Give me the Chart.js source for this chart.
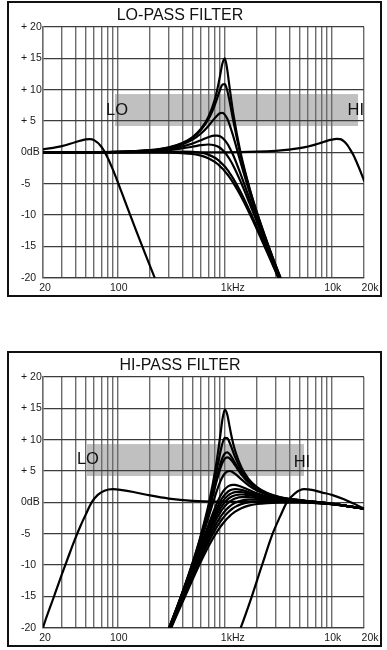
<!DOCTYPE html>
<html><head><meta charset="utf-8">
<script src="https://cdn.jsdelivr.net/npm/chart.js@4/dist/chart.umd.min.js"></script>
<style>
html,body{margin:0;padding:0;background:#fff;width:387px;height:650px;overflow:hidden;font-family:"Liberation Sans",Arial,sans-serif;}
.box{position:absolute;left:7px;width:375px;height:296px;border:2px solid #111;box-sizing:border-box;background:#fff;}
.box canvas{position:absolute;left:0;top:0;}
.title{position:absolute;left:0;width:342px;top:3px;text-align:center;font-size:16px;line-height:18px;color:#111;z-index:2;}
</style></head><body>
<div class="box" style="top:1px"><canvas id="c1" width="371" height="292"></canvas><div class="title">LO-PASS FILTER</div></div>
<div class="box" style="top:351px"><canvas id="c2" width="371" height="292"></canvas><div class="title">HI-PASS FILTER</div></div>
<script>
// ---------- axes ----------
const gridHz = [20,30,40,50,60,70,80,90,100,200,300,400,500,600,700,800,900,1000,2000,3000,4000,5000,6000,7000,8000,9000,10000,20000];
const xLabelHz = [20, 100, 1000, 10000, 20000];
const xLabelText = ['20', '100', '1kHz', '10k', '20k'];
const yTickDb = [20, 15, 10, 5, 0, -5, -10, -15, -20];
const yTickText = ['+ 20', '+ 15', '+ 10', '+ 5', '0dB', '-5', '-10', '-15', '-20'];

// ---------- LO-PASS chart data ----------
const lpHz = [20,100,200,300,400,500,600,700,800,850,900,950,1000,1050,1100,1200,1400,1700,2000,2500,3200,3500];
const lpA = [0,0.09,0.35,0.80,1.48,2.44,3.76,5.60,8.24,10.0,12.08,14.17,15.0,13.4,10.8,6.2,0.07,-5.64,-9.60,-14.43,-19.33,-21.0];
const lpB = [0,0.08,0.34,0.78,1.43,2.34,3.58,5.23,7.40,8.66,9.91,10.80,10.88,9.98,8.45,5.07,-0.34,-5.81,-9.70,-14.48,-19.36,-21.0];
const lpC = [0,0.08,0.31,0.70,1.27,2.04,3.01,4.17,5.38,5.89,6.22,6.29,6.02,5.43,4.60,2.57,-1.50,-6.33,-10.0,-14.64,-19.44,-21.1];
const lpD = [0,0.06,0.24,0.53,0.93,1.41,1.94,2.41,2.68,2.68,2.56,2.31,1.94,1.45,0.87,-0.47,-3.38,-7.34,-10.63,-14.99,-19.63,-21.2];
const lpE = [0,0.04,0.17,0.37,0.63,0.90,1.14,1.25,1.14,0.97,0.73,0.40,0,-0.47,-0.98,-2.13,-4.60,-8.10,-11.14,-15.29,-19.81,-21.4];
const lpF = [0,0.01,0.05,0.09,0.11,0.07,-0.07,-0.36,-0.83,-1.13,-1.47,-1.85,-2.27,-2.72,-3.19,-4.19,-6.26,-9.27,-11.97,-15.81,-20.11,-21.7];
const lpG = [0,0,-0.01,-0.04,-0.11,-0.26,-0.53,-0.93,-1.49,-1.82,-2.19,-2.59,-3.01,-3.46,-3.92,-4.88,-6.85,-9.71,-12.30,-16.03,-20.21,-21.8];
const lpLowHz = [20,30,40,50,55,60,70,80,90,100,120,150,180,222,260];
const lpLowDb = [0.46,0.99,1.62,2.08,2.12,1.95,0.94,-0.77,-2.76,-4.75,-8.34,-12.70,-16.17,-20.06,-23];
const lpHighHz = [20,1000,2000,3000,4000,5000,6000,7000,8000,9000,10000,11000,12000,13000,14000,15000,16000,17000,18000,19000,20000];
const lpHighDb = [0,0,0.1,0.25,0.43,0.67,0.94,1.24,1.55,1.83,2.02,2.15,2.1,1.75,1.15,0.35,-0.5,-1.5,-2.5,-3.5,-4.5];
const lpBandHz = [94, 17600];
const lpBandDb = [4.2, 9.3];
const lpNotes = [['LO', 77.6, 6.7, 'left'], ['HI', 20000, 6.7, 'right']];

// ---------- HI-PASS chart data ----------
const hpHz = [286,312.5,400,500,588,714,833,909,952,1000,1053,1111,1176,1250,1429,1667,2000,2500,3333,5000,10000,14000,20000];
const hpA = [-21.0,-19.33,-14.44,-9.61,-5.64,0.06,6.18,10.75,13.29,14.81,14.06,12.01,9.96,8.22,5.59,3.75,2.43,1.48,0.80,0.35,-0.21,-0.6,-1.0];
const hpB = [-21.0,-19.36,-14.49,-9.72,-5.85,-0.43,4.84,8.03,9.45,10.29,10.27,9.51,8.40,7.22,5.14,3.53,2.32,1.42,0.78,0.34,-0.22,-0.6,-1.0];
const hpC = [-21.1,-19.40,-14.56,-9.85,-6.08,-0.96,3.63,6.10,7.12,7.78,7.96,7.67,7.05,6.27,4.66,3.28,2.19,1.35,0.74,0.32,-0.22,-0.6,-1.0];
const hpD = [-21.1,-19.42,-14.60,-9.91,-6.18,-1.19,3.16,5.42,6.34,6.97,7.19,7.01,6.53,5.88,4.45,3.17,2.13,1.32,0.73,0.32,-0.22,-0.6,-1.0];
const hpE = [-21.1,-19.49,-14.73,-10.16,-6.60,-2.04,1.60,3.35,4.07,4.61,4.92,5.00,4.85,4.55,3.67,2.72,1.88,1.19,0.66,0.29,-0.23,-0.6,-1.0];
const hpF = [-21.2,-19.63,-14.97,-10.60,-7.29,-3.30,-0.36,1.00,1.59,2.08,2.45,2.69,2.80,2.79,2.49,1.99,1.44,0.94,0.54,0.24,-0.24,-0.6,-1.0];
const hpG = [-21.3,-19.69,-15.09,-10.80,-7.60,-3.81,-1.08,0.18,0.74,1.21,1.60,1.88,2.05,2.12,2.00,1.66,1.24,0.83,0.48,0.21,-0.25,-0.6,-1.0];
const hpH = [-21.3,-19.75,-15.19,-10.97,-7.85,-4.21,-1.62,-0.42,0.12,0.59,0.98,1.29,1.50,1.62,1.62,1.40,1.07,0.73,0.43,0.19,-0.25,-0.6,-1.0];
const hpI = [-21.4,-19.81,-15.29,-11.14,-8.10,-4.60,-2.13,-0.98,-0.47,0,0.40,0.73,0.97,1.14,1.25,1.14,0.90,0.63,0.37,0.17,-0.26,-0.6,-1.0];
const hpJ = [-21.5,-19.88,-15.41,-11.34,-8.40,-5.03,-2.69,-1.59,-1.09,-0.63,-0.22,0.12,0.40,0.61,0.83,0.83,0.70,0.50,0.30,0.14,-0.26,-0.6,-1.0];
const hpK = [-21.6,-19.98,-15.59,-11.62,-8.79,-5.60,-3.40,-2.35,-1.87,-1.41,-1.00,-0.63,-0.32,-0.07,0.28,0.42,0.42,0.33,0.21,0.10,-0.27,-0.6,-1.0];
const hpL = [-21.7,-20.09,-15.78,-11.92,-9.20,-6.17,-4.08,-3.08,-2.61,-2.16,-1.74,-1.36,-1.02,-0.72,-0.28,-0.01,0.12,0.14,0.11,0.06,-0.28,-0.6,-1.0];
const hpM = [-21.8,-20.21,-16.03,-12.30,-9.71,-6.85,-4.88,-3.92,-3.46,-3.01,-2.59,-2.19,-1.82,-1.49,-0.93,-0.53,-0.26,-0.11,-0.04,-0.01,-0.3,-0.6,-1.0];
const hpLowHz = [18,20,25,30,35,40,45,50,57,65,75,90,110,140,200,300,500,1000,3000,5000,10000,14000,20000];
const hpLowDb = [-23,-20,-15.3,-11.5,-8.4,-5.8,-3.7,-2.0,0,1.2,1.85,2.1,1.95,1.65,1.1,0.6,0.25,0.1,0.05,0,-0.3,-0.6,-1.0];
const hpHighHz = [1300,1410,1790,2230,2800,3300,3800,4500,5500,6500,8000,10000,13000,16000,20000];
const hpHighDb = [-21.5,-20,-15,-10,-5,-2.2,0,1.4,2.1,2.0,1.6,1.2,0.5,-0.2,-1.0];
const hpBandHz = [51.6, 5500];
const hpBandDb = [4.2, 9.3];
const hpNotes = [['LO', 41.5, 6.9, 'left'], ['HI', 4400, 6.4, 'left']];

// ---------- rendering ----------
const FONT = '"Liberation Sans", Arial, sans-serif';
function pts(xs, ys) { return xs.map((x, i) => ({x: x, y: ys[i]})); }
function line(xs, ys) {
  return { data: pts(xs, ys), borderColor: '#000', borderWidth: 2.2, pointRadius: 0,
           fill: false, cubicInterpolationMode: 'monotone', borderJoinStyle: 'round', borderCapStyle: 'round' };
}
function makeChart(id, datasets, bandHz, bandDb, notes) {
  const bandPlugin = {
    id: 'band',
    beforeDraw(chart) {
      const xs = chart.scales.x, ys = chart.scales.y, ctx = chart.ctx;
      const x0 = xs.getPixelForValue(bandHz[0]), x1 = xs.getPixelForValue(bandHz[1]);
      const y0 = ys.getPixelForValue(bandDb[1]), y1 = ys.getPixelForValue(bandDb[0]);
      ctx.save(); ctx.fillStyle = '#c0c0c0'; ctx.fillRect(x0, y0, x1 - x0, y1 - y0); ctx.restore();
    }
  };
  const textPlugin = {
    id: 'texts',
    afterDraw(chart) {
      const xs = chart.scales.x, ys = chart.scales.y, ctx = chart.ctx;
      ctx.save();
      ctx.fillStyle = '#111';
      ctx.font = '16.5px ' + FONT;
      ctx.textBaseline = 'middle';
      notes.forEach(n => { ctx.textAlign = n[3]; ctx.fillText(n[0], xs.getPixelForValue(n[1]), ys.getPixelForValue(n[2])); });
      ctx.font = '10.5px ' + FONT;
      ctx.fillStyle = '#1a1a1a';
      ctx.textAlign = 'center';
      const shift = [2, 1, 8, 1, 6];
      xLabelHz.forEach((v, i) => ctx.fillText(xLabelText[i], xs.getPixelForValue(v) + shift[i], chart.chartArea.bottom + 10));
      ctx.restore();
    }
  };
  return new Chart(document.getElementById(id), {
    type: 'line',
    data: { datasets: datasets },
    options: {
      responsive: false, animation: false, events: [],
      layout: { padding: { left: 12, top: 24, right: 16, bottom: 0 } },
      plugins: { legend: { display: false }, tooltip: { enabled: false }, title: { display: false } },
      scales: {
        x: {
          type: 'logarithmic', min: 20, max: 20000,
          afterBuildTicks: s => { s.ticks = gridHz.map(v => ({ value: v })); },
          afterFit: s => { s.height = 17.3; },
          ticks: { display: false, autoSkip: false },
          grid: { color: '#6c6c6c', lineWidth: 1.4, drawTicks: false },
          border: { color: '#3c3c3c', width: 1.3 }
        },
        y: {
          type: 'linear', min: -20, max: 20,
          afterBuildTicks: s => { s.ticks = yTickDb.map(v => ({ value: v })); },
          afterFit: s => { s.width = 22; },
          ticks: {
            crossAlign: 'far', color: '#1a1a1a', font: { size: 10.5, family: FONT },
            callback: v => yTickText[yTickDb.indexOf(v)]
          },
          grid: { color: '#3c3c3c', lineWidth: 1.3, drawTicks: false },
          border: { color: '#6c6c6c', width: 1.4 }
        }
      }
    },
    plugins: [bandPlugin, textPlugin]
  });
}

makeChart('c1', [
  line(lpHz, lpA), line(lpHz, lpB), line(lpHz, lpC), line(lpHz, lpD), line(lpHz, lpE), line(lpHz, lpF), line(lpHz, lpG),
  line(lpLowHz, lpLowDb), line(lpHighHz, lpHighDb)
], lpBandHz, lpBandDb, lpNotes);

makeChart('c2', [
  line(hpHz, hpA), line(hpHz, hpB), line(hpHz, hpC), line(hpHz, hpD), line(hpHz, hpE), line(hpHz, hpF), line(hpHz, hpG),
  line(hpHz, hpH), line(hpHz, hpI), line(hpHz, hpJ), line(hpHz, hpK), line(hpHz, hpL), line(hpHz, hpM),
  line(hpLowHz, hpLowDb), line(hpHighHz, hpHighDb)
], hpBandHz, hpBandDb, hpNotes);
</script>
</body></html>
